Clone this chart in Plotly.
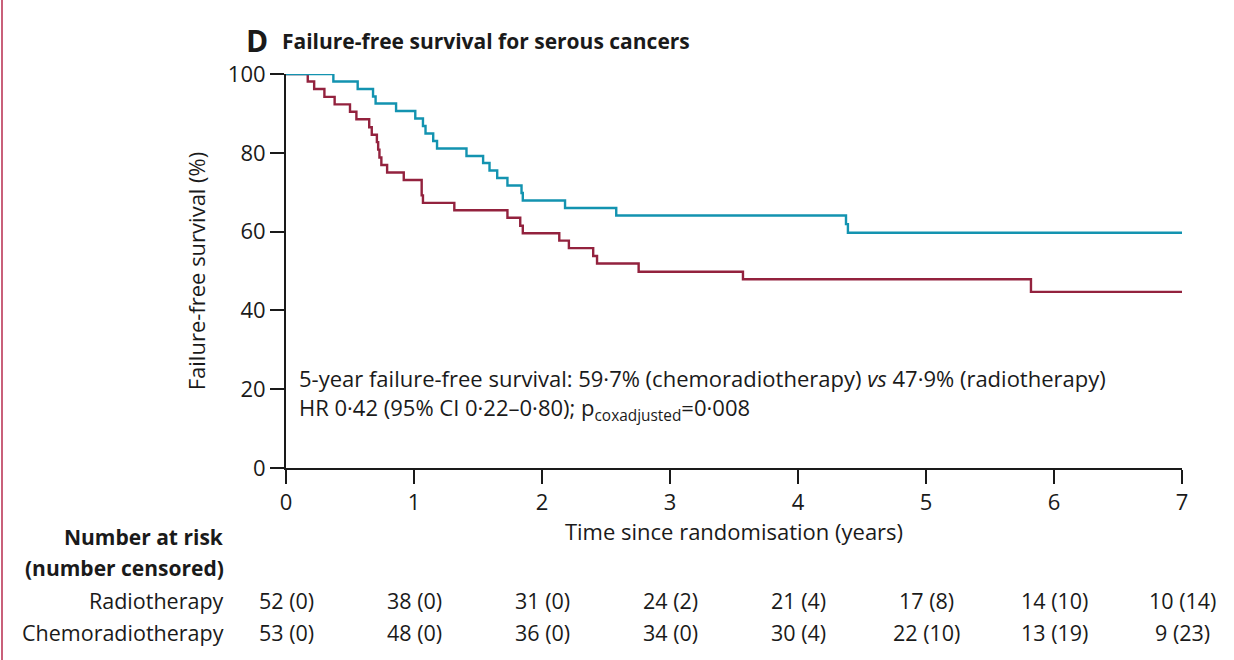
import plotly.graph_objects as go

# ---- data ----
chemo_t = [0, 0.37, 0.56, 0.68, 0.70, 0.86, 1.01, 1.07, 1.09, 1.15, 1.18, 1.41, 1.54, 1.59,
           1.65, 1.73, 1.84, 1.85, 2.18, 2.58, 4.375, 4.39, 7]
chemo_s = [100, 98.1, 96.2, 94.3, 92.5, 90.6, 88.7, 86.8, 84.9, 83.0, 81.1, 79.2, 77.4, 75.5,
           73.6, 71.7, 69.8, 67.9, 66.0, 64.1, 61.9, 59.7, 59.7]

radio_t = [0, 0.17, 0.22, 0.30, 0.38, 0.50, 0.55, 0.65, 0.67, 0.71, 0.72, 0.73, 0.745, 0.79,
           0.92, 1.06, 1.07, 1.315, 1.73, 1.83, 1.85, 2.135, 2.21, 2.40, 2.43, 2.755, 3.57,
           5.82, 7]
radio_s = [100, 98.1, 96.2, 94.2, 92.3, 90.4, 88.5, 86.5, 84.6, 82.7, 80.8, 78.8, 76.9, 75.0,
           73.1, 69.2, 67.3, 65.4, 63.5, 61.5, 59.6, 57.7, 55.8, 53.8, 51.9, 49.8, 47.9,
           44.7, 44.7]

risk_times = [0, 1, 2, 3, 4, 5, 6, 7]
risk_radio = ["52 (0)", "38 (0)", "31 (0)", "24 (2)", "21 (4)", "17 (8)", "14 (10)", "10 (14)"]
risk_chemo = ["53 (0)", "48 (0)", "36 (0)", "34 (0)", "30 (4)", "22 (10)", "13 (19)", "9 (23)"]

x_ticks = [0, 1, 2, 3, 4, 5, 6, 7]
y_ticks = [0, 20, 40, 60, 80, 100]

BLUE = "#1393b0"
RED = "#93223e"
INK = "#1a1a1a"
FONT = "Open Sans"
W, H = 1234, 660
ML, MR, MT, MB = 286, 52, 74, 192
PW, PH = W - ML - MR, H - MT - MB


def px(xp):
    return (xp - ML) / PW


def py(yp):
    return 1 - (yp - MT) / PH


fig = go.Figure()
fig.add_trace(go.Scatter(x=radio_t, y=radio_s, mode="lines", line=dict(color=RED, width=2.4, shape="hv"),
                         cliponaxis=False, showlegend=False, name="Radiotherapy"))
fig.add_trace(go.Scatter(x=chemo_t, y=chemo_s, mode="lines", line=dict(color=BLUE, width=2.4, shape="hv"),
                         cliponaxis=False, showlegend=False, name="Chemoradiotherapy"))

ann = []
ann.append(dict(x=px(244), y=py(40), xref="paper", yref="paper", text="<b>D</b>", showarrow=False,
                xanchor="left", yanchor="middle", font=dict(family=FONT, size=30, color=INK)))
ann.append(dict(x=px(280), y=py(41), xref="paper", yref="paper",
                text="<b>Failure-free survival for serous cancers</b>", showarrow=False,
                xanchor="left", yanchor="middle", font=dict(family=FONT, size=21, color=INK)))
ann.append(dict(x=px(297), y=py(378), xref="paper", yref="paper",
                text="5-year failure-free survival: 59·7% (chemoradiotherapy) <i>vs</i> 47·9% (radiotherapy)",
                showarrow=False, xanchor="left", yanchor="middle",
                font=dict(family=FONT, size=22, color=INK)))
ann.append(dict(x=px(297), y=py(409), xref="paper", yref="paper",
                text="HR 0·42 (95% CI 0·22–0·80); p<sub>coxadjusted</sub>=0·008",
                showarrow=False, xanchor="left", yanchor="middle",
                font=dict(family=FONT, size=22, color=INK)))
ann.append(dict(x=px(226), y=py(537), xref="paper", yref="paper", text="<b>Number at risk</b>",
                showarrow=False, xanchor="right", yanchor="middle", font=dict(family=FONT, size=21, color=INK)))
ann.append(dict(x=px(226), y=py(568), xref="paper", yref="paper", text="<b>(number censored)</b>",
                showarrow=False, xanchor="right", yanchor="middle", font=dict(family=FONT, size=21, color=INK)))
ann.append(dict(x=px(226), y=py(600), xref="paper", yref="paper", text="Radiotherapy",
                showarrow=False, xanchor="right", yanchor="middle", font=dict(family=FONT, size=21.5, color=INK)))
ann.append(dict(x=px(226), y=py(632), xref="paper", yref="paper", text="Chemoradiotherapy",
                showarrow=False, xanchor="right", yanchor="middle", font=dict(family=FONT, size=21.5, color=INK)))
for t, r, c in zip(risk_times, risk_radio, risk_chemo):
    ann.append(dict(x=t, y=py(600), xref="x", yref="paper", text=r, showarrow=False,
                    xanchor="center", yanchor="middle", font=dict(family=FONT, size=21.5, color=INK)))
    ann.append(dict(x=t, y=py(632), xref="x", yref="paper", text=c, showarrow=False,
                    xanchor="center", yanchor="middle", font=dict(family=FONT, size=21.5, color=INK)))

shapes = [dict(type="line", xref="paper", yref="paper", x0=px(2), x1=px(2), y0=py(0), y1=py(660),
               line=dict(color="#c9607a", width=2))]

fig.update_layout(
    width=W, height=H,
    margin=dict(l=ML, r=MR, t=MT, b=MB),
    paper_bgcolor="white", plot_bgcolor="white",
    font=dict(family=FONT, size=21, color=INK),
    annotations=ann, shapes=shapes,
    xaxis=dict(range=[0, 7], tickvals=x_ticks, ticktext=[str(v) for v in x_ticks],
               showgrid=False, zeroline=False, showline=True, linecolor=INK, linewidth=2,
               ticks="outside", ticklen=14, tickwidth=2, tickcolor=INK,
               tickfont=dict(family=FONT, size=22),
               title=dict(text="Time since randomisation (years)", font=dict(family=FONT, size=22), standoff=4)),
    yaxis=dict(range=[0, 100], tickvals=y_ticks, ticktext=[str(v) for v in y_ticks],
               showgrid=False, zeroline=False, showline=True, linecolor=INK, linewidth=2,
               ticks="outside", ticklen=14, tickwidth=2, tickcolor=INK,
               tickfont=dict(family=FONT, size=22),
               title=dict(text="Failure-free survival (%)", font=dict(family=FONT, size=22), standoff=16)),
)

fig.write_html("out.html", config={"displayModeBar": False},
               post_script="document.body.style.margin='0';document.body.style.padding='0';")
